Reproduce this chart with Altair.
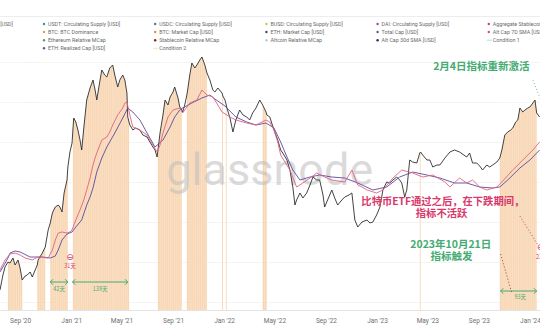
import altair as alt
import pandas as pd

# ---------------- data ----------------
# Altcoin market cap (black line), arbitrary units (~B USD)
alt_dates = [
    "2020-07-15", "2020-07-22", "2020-07-27",
    "2020-08-03", "2020-08-08", "2020-08-15", "2020-08-20", "2020-08-27",
    "2020-09-01", "2020-09-06", "2020-09-13", "2020-09-18", "2020-09-25", "2020-09-30",
    "2020-10-07", "2020-10-12", "2020-10-14", "2020-10-24", "2020-10-31",
    "2020-11-07", "2020-11-12", "2020-11-17", "2020-11-24",
    "2020-12-01", "2020-12-05", "2020-12-10", "2020-12-15", "2020-12-22", "2020-12-24", "2020-12-29",
    "2021-01-03", "2021-01-05", "2021-01-07", "2021-01-12", "2021-01-17", "2021-01-22", "2021-01-26", "2021-01-31",
    "2021-02-07", "2021-02-15", "2021-02-22", "2021-02-27",
    "2021-03-03", "2021-03-10", "2021-03-15", "2021-03-22", "2021-03-27",
    "2021-04-03", "2021-04-10", "2021-04-15", "2021-04-22", "2021-04-27",
    "2021-05-04", "2021-05-09", "2021-05-14", "2021-05-16", "2021-05-19", "2021-05-21", "2021-05-28",
    "2021-06-04", "2021-06-14", "2021-06-21",
    "2021-07-01", "2021-07-08", "2021-07-15", "2021-07-20", "2021-07-25", "2021-07-27", "2021-07-30",
    "2021-08-01", "2021-08-08", "2021-08-13", "2021-08-20", "2021-08-25",
    "2021-09-01", "2021-09-05", "2021-09-13", "2021-09-17", "2021-09-22", "2021-09-24", "2021-09-29",
    "2021-10-04", "2021-10-06", "2021-10-11", "2021-10-16", "2021-10-23", "2021-10-28",
    "2021-11-04", "2021-11-09", "2021-11-16", "2021-11-21", "2021-11-28",
    "2021-12-05", "2021-12-10", "2021-12-17", "2021-12-27", "2021-12-29",
    "2022-01-03", "2022-01-05", "2022-01-07", "2022-01-15", "2022-01-22", "2022-01-29",
    "2022-02-07", "2022-02-15", "2022-02-24",
    "2022-03-03", "2022-03-10", "2022-03-18", "2022-03-27",
    "2022-04-03", "2022-04-11", "2022-04-13", "2022-04-20", "2022-04-30",
    "2022-05-09", "2022-05-16", "2022-05-21", "2022-05-31",
    "2022-06-07", "2022-06-14", "2022-06-19", "2022-06-23",
    "2022-07-01", "2022-07-08", "2022-07-17", "2022-07-25",
    "2022-08-01", "2022-08-10", "2022-08-17", "2022-08-25", "2022-08-29",
    "2022-09-05", "2022-09-15", "2022-09-22", "2022-09-29",
    "2022-10-09", "2022-10-16", "2022-10-26",
    "2022-11-02", "2022-11-09", "2022-11-16", "2022-11-26",
    "2022-12-08", "2022-12-15", "2022-12-22", "2022-12-31",
    "2023-01-08", "2023-01-15", "2023-01-24", "2023-01-31",
    "2023-02-08", "2023-02-17", "2023-02-24",
    "2023-03-01", "2023-03-08", "2023-03-13", "2023-03-20", "2023-03-27",
    "2023-04-06", "2023-04-13", "2023-04-15", "2023-04-20", "2023-04-30",
    "2023-05-07", "2023-05-14", "2023-05-24", "2023-05-31",
    "2023-06-12", "2023-06-24",
    "2023-07-05", "2023-07-17",
    "2023-08-03", "2023-08-10", "2023-08-17", "2023-08-27",
    "2023-09-03", "2023-09-10", "2023-09-20", "2023-09-27",
    "2023-10-04", "2023-10-14", "2023-10-21", "2023-10-26",
    "2023-11-02", "2023-11-09", "2023-11-16", "2023-11-21", "2023-11-28",
    "2023-12-03", "2023-12-08", "2023-12-15", "2023-12-20", "2023-12-27",
    "2024-01-01", "2024-01-08", "2024-01-13", "2024-01-17", "2024-01-24",
]
alt_values = [
    160, 235, 275,
    300, 295, 320, 285, 310,
    270, 210, 230, 235, 250, 225,
    260, 285, 310, 345, 375,
    460, 495, 545, 575,
    585, 575, 550, 645, 710, 775, 850,
    895, 960, 1020, 1000, 960, 910, 860, 970,
    1110, 1170, 1210, 1160,
    1110, 1200, 1260, 1235, 1225,
    1270, 1285, 1235, 1175, 1210,
    1235, 1210, 1145, 1025, 1000, 985, 960,
    970, 960, 935,
    925, 900, 875, 860, 825, 860, 910,
    945, 1035, 1110, 1085, 1125,
    1150, 1175, 1120, 1075, 1060, 1050, 1085,
    1135, 1160, 1235, 1295, 1270, 1285,
    1310, 1325, 1285, 1245, 1210,
    1160, 1150, 1170, 1145, 1130,
    1110, 1095, 1075, 1020, 950, 1010,
    1060, 1035, 1025,
    1010, 1045, 1070, 1110,
    1085, 1050, 1035, 1025, 960,
    910, 860, 845, 810,
    760, 675, 585, 610,
    645, 620, 645, 685,
    725, 710, 710, 635, 575,
    610, 660, 620, 585,
    610, 625, 635,
    645, 510, 475, 500,
    510, 495, 500, 535,
    575, 660, 700, 695,
    710, 725, 710,
    695, 625, 660, 810, 800,
    795, 845, 850, 835, 810,
    810, 775, 785, 785,
    820, 850,
    860, 850,
    825, 845, 795, 795,
    780, 760, 785, 775,
    785, 800, 820, 860,
    935, 950, 960, 970, 1000,
    1010, 1070, 1050, 1060, 1070,
    1075, 1095, 1110, 1045, 1025,
]

# Alt Cap 7D SMA (pink-red line)
sma7_dates = [
    "2020-07-15", "2020-07-27", "2020-08-08", "2020-08-20", "2020-09-01", "2020-09-13", "2020-09-30",
    "2020-10-14", "2020-11-07", "2020-11-17", "2020-11-24", "2020-12-01", "2020-12-10", "2020-12-22",
    "2020-12-29", "2021-01-03", "2021-01-12", "2021-01-17", "2021-01-22", "2021-01-31", "2021-02-07",
    "2021-02-15", "2021-02-22", "2021-02-27", "2021-03-03", "2021-03-15", "2021-03-27", "2021-04-03",
    "2021-04-10", "2021-04-22", "2021-05-04", "2021-05-09", "2021-05-14", "2021-05-21", "2021-05-28",
    "2021-06-14", "2021-07-01", "2021-07-15", "2021-07-25", "2021-08-01", "2021-08-08", "2021-08-20",
    "2021-09-01", "2021-09-17", "2021-09-24", "2021-10-11", "2021-10-28", "2021-11-09", "2021-11-21",
    "2021-12-05", "2021-12-17", "2021-12-27", "2022-01-15", "2022-01-29", "2022-02-24", "2022-03-18",
    "2022-04-11", "2022-04-20", "2022-04-30", "2022-05-09", "2022-05-16", "2022-06-07", "2022-06-23",
    "2022-07-08", "2022-07-25", "2022-08-10", "2022-08-29", "2022-09-15", "2022-10-16", "2022-11-02",
    "2022-11-16", "2022-11-26", "2022-12-08", "2022-12-31", "2023-01-15", "2023-02-08", "2023-03-01",
    "2023-03-27", "2023-04-20", "2023-05-14", "2023-06-12", "2023-06-24", "2023-07-17", "2023-08-03",
    "2023-08-17", "2023-09-03", "2023-09-20", "2023-10-14", "2023-10-26", "2023-11-21", "2023-12-15",
    "2024-01-08", "2024-01-24",
]
sma7_values = [
    260, 310, 340, 345, 335, 320, 310,
    325, 320, 360, 410, 445, 450, 445,
    450, 460, 510, 535, 560, 610, 660,
    720, 785, 820, 845, 910, 925, 950,
    985, 1035, 1070, 1095, 1100, 1035, 975,
    960, 935, 885, 850, 885, 945, 1025,
    1060, 1070, 1045, 1095, 1110, 1160, 1135,
    1125, 1085, 1050, 1025, 1010, 995, 985,
    1010, 1000, 960, 900, 835, 760, 675,
    695, 720, 745, 725, 710, 700, 760,
    685, 675, 660, 645, 660, 720, 760,
    745, 725, 735, 700, 675, 720, 695,
    710, 675, 660, 675, 700, 760, 810,
    860, 900,
]

# Alt Cap 30d SMA (indigo line)
sma30_dates = [
    "2020-07-15", "2020-07-22", "2020-08-03", "2020-08-08", "2020-08-20", "2020-09-01", "2020-09-25",
    "2020-10-24", "2020-11-12", "2020-11-24", "2020-12-01", "2020-12-10", "2020-12-22", "2021-01-03",
    "2021-01-12", "2021-01-26", "2021-02-07", "2021-02-15", "2021-02-22", "2021-03-03", "2021-03-15",
    "2021-03-27", "2021-04-15", "2021-05-04", "2021-05-16", "2021-05-28", "2021-06-14", "2021-07-01",
    "2021-07-20", "2021-08-08", "2021-08-25", "2021-09-05", "2021-09-17", "2021-09-24", "2021-10-16",
    "2021-11-09", "2021-11-28", "2021-12-10", "2022-01-03", "2022-01-29", "2022-02-24", "2022-03-18",
    "2022-04-11", "2022-04-30", "2022-05-16", "2022-05-31", "2022-06-14", "2022-07-01", "2022-07-25",
    "2022-08-17", "2022-09-15", "2022-10-16", "2022-11-16", "2022-12-22", "2023-01-24", "2023-02-24",
    "2023-03-27", "2023-04-30", "2023-05-31", "2023-07-05", "2023-08-03", "2023-09-03", "2023-10-04",
    "2023-10-21", "2023-11-09", "2023-12-08", "2024-01-01", "2024-01-24",
]
sma30_values = [
    250, 275, 320, 345, 355, 350, 325,
    325, 320, 330, 360, 410, 440, 450,
    475, 510, 585, 625, 670, 750, 820,
    875, 945, 1020, 1070, 1050, 1010, 945,
    875, 910, 975, 1025, 1060, 1070, 1095,
    1120, 1135, 1115, 1080, 1025, 1000, 985,
    995, 970, 900, 825, 760, 710, 725,
    735, 725, 720, 695, 660, 675, 725,
    750, 735, 720, 695, 695, 675, 670,
    675, 710, 770, 810, 860,
]

# Condition windows (orange fill under the alt-cap curve)
band_starts = ["2020-08-03", "2020-10-12", "2020-11-12", "2021-01-05", "2021-07-27", "2021-10-04",
               "2021-12-27", "2022-01-05", "2022-04-03", "2023-04-13", "2023-10-21"]
band_ends = ["2020-09-06", "2020-10-31", "2020-12-24", "2021-05-19", "2021-09-22", "2021-11-21",
             "2021-12-29", "2022-01-07", "2022-04-13", "2023-04-15", "2024-01-17"]

# x-axis ticks (year, month)
tick_months = [(2020, 9), (2021, 1), (2021, 5), (2021, 9), (2022, 1), (2022, 5), (2022, 9),
               (2023, 1), (2023, 5), (2023, 9), (2024, 1)]
grid_values = [100, 200, 300, 400, 500, 600, 700, 800, 900, 1000, 1100, 1200, 1300]

# duration arrows
arrow_starts = ["2020-11-12", "2021-01-04", "2023-10-23"]
arrow_ends = ["2020-12-24", "2021-05-16", "2024-01-17"]
arrow_levels = [200, 200, 155]
arrow_label_dates = ["2020-12-03", "2021-03-11", "2023-12-09"]
arrow_label_levels = [167, 167, 127]
arrow_labels = ["42天", "138天", "93天"]

# red gap markers
gap_dates = ["2020-12-29", "2024-01-26"]
gap_levels = [325, 375]
gap_label_dates = ["2020-12-29", "2024-01-29"]
gap_label_levels = [281, 326]
gap_labels = ["31天", "23天"]

# dotted leader lines
leader_ids = [0, 0, 1, 1, 2, 2]
leader_dates = ["2024-01-08", "2024-01-27", "2023-10-23", "2023-11-18", "2023-12-08", "2024-01-20"]
leader_levels = [1210, 1110, 340, 150, 530, 385]
leader_colors = ["#8fb8b3", "#8fb8b3", "#a05a50", "#a05a50", "#d9577d", "#d9577d"]

green_notes = ["2月4日指标重新激活", "2023年10月21日", "指标触发"]
green_note_dates = ["2023-09-07", "2023-06-26", "2023-06-28"]
green_note_levels = [1275, 385, 323]
red_notes = ["比特币ETF通过之后，在下跌期间，", "指标不活跃"]
red_note_dates = ["2023-06-07", "2023-06-04"]
red_note_levels = [600, 540]

# legend
legend_rows = [
    ["USDT: Circulating Supply [USD]", "USDC: Circulating Supply [USD]", "BUSD: Circulating Supply [USD]",
     "DAI: Circulating Supply [USD]", "Aggregate Stablecoin Supply [USD]"],
    ["BTC: BTC Dominance", "BTC: Market Cap [USD]", "ETH: Market Cap [USD]", "Total Cap [USD]",
     "Alt Cap 7D SMA [USD]"],
    ["Ethereum Relative MCap", "Stablecoin Relative MCap", "Altcoin Relative MCap",
     "Alt Cap 30d SMA [USD]", "Condition 1"],
    ["ETH: Realized Cap [USD]", "Condition 2"],
]
legend_colors = [
    ["#3f9a8c", "#4a78b8", "#c9c84f", "#8e4fb0", "#c04d6a"],
    ["#d9a355", "#e88f3c", "#394a8e", "#5b5ea6", "#d8506f"],
    ["#5e9e4c", "#8a1c2c", "#9fd6cf", "#2c2c6e", "#a8dcd4"],
    ["#5b5b9c", "#f6dcb8"],
]
legend_is_line = ["Condition 1", "Condition 2"]

# ---------------- frames ----------------
alt_df = pd.DataFrame({"date": alt_dates, "value": alt_values})
sma7_df = pd.DataFrame({"date": sma7_dates, "value": sma7_values})
sma30_df = pd.DataFrame({"date": sma30_dates, "value": sma30_values})

band_rows = []
stripe_rows = []
for i, (s, e) in enumerate(zip(band_starts, band_ends)):
    for d, v in zip(alt_dates, alt_values):
        if s <= d <= e:
            band_rows.append({"date": d, "value": v, "band": i})
    for d in pd.date_range(s, e, freq="5D")[1:]:
        stripe_rows.append({"date": d.strftime("%Y-%m-%d")})
band_df = pd.DataFrame(band_rows)
stripe_df = pd.DataFrame(stripe_rows)

arrow_df = pd.DataFrame({"start": arrow_starts, "end": arrow_ends, "value": arrow_levels})
arrow_head_df = pd.DataFrame({
    "date": arrow_starts + arrow_ends,
    "value": arrow_levels + arrow_levels,
    "side": ["l"] * len(arrow_starts) + ["r"] * len(arrow_ends),
})
arrow_label_df = pd.DataFrame({"date": arrow_label_dates, "value": arrow_label_levels, "label": arrow_labels})
gap_df = pd.DataFrame({"date": gap_dates, "value": gap_levels})
gap_label_df = pd.DataFrame({"date": gap_label_dates, "value": gap_label_levels, "label": gap_labels})
leader_df = pd.DataFrame({"id": leader_ids, "date": leader_dates, "value": leader_levels, "c": leader_colors})
green_df = pd.DataFrame({"date": green_note_dates, "value": green_note_levels, "label": green_notes})
red_df = pd.DataFrame({"date": red_note_dates, "value": red_note_levels, "label": red_notes})
wm_df = pd.DataFrame({"date": ["2022-04-20"], "value": [685], "label": ["glassnode"]})

W, H = 540, 260
PAD_TOP, PAD_BOTTOM = 50, 26
COL0, COLW = 44, 111.2
ROW0, ROWH = 24, 8.1

leg = []
for r, (labels, cols) in enumerate(zip(legend_rows, legend_colors)):
    for c, (lab, colr) in enumerate(zip(labels, cols)):
        leg.append({
            "lx": COL0 + c * COLW, "ly": ROW0 + r * ROWH - PAD_TOP,
            "label": lab, "color": colr, "line": lab in legend_is_line,
        })
leg_df = pd.DataFrame(leg)
leg_dot_df = leg_df[~leg_df["line"]]
leg_line_df = leg_df[leg_df["line"]].assign(lx2=lambda d: d["lx"] + 3, lx1=lambda d: d["lx"] - 2)
leg_cut_df = pd.DataFrame({"lx": [13], "ly": [ROW0 - PAD_TOP], "label": ["BTC: Price [USD]"]})

# ---------------- scales / encodings ----------------
x_scale = alt.Scale(domain=[alt.DateTime(year=2020, month=7, date=15, utc=True),
                            alt.DateTime(year=2024, month=1, date=25, utc=True)])
x_axis = alt.Axis(
    values=[alt.DateTime(year=y, month=m, date=1, utc=True) for y, m in tick_months],
    labelExpr="utcFormat(datum.value, \"%b '%y\")",
    grid=False, ticks=False, domain=True, domainColor="#e4e4e4", domainWidth=1,
    labelColor="#6f6f6f", labelFontSize=6.5, labelFont="Roboto", labelPadding=7, title=None,
)
y_scale = alt.Scale(domain=[60, 1360], nice=False, zero=False)
y_axis = alt.Axis(values=grid_values, labels=False, ticks=False, domain=False, grid=True,
                  gridColor="#efefef", gridWidth=0.7, title=None)


def X(field):
    return alt.X(field, type="temporal", scale=x_scale, axis=x_axis)


def Y(field):
    return alt.Y(field, type="quantitative", scale=y_scale, axis=y_axis)


PX = lambda f: alt.X(f, type="quantitative", scale=None, axis=None)
PY = lambda f: alt.Y(f, type="quantitative", scale=None, axis=None)

areas = alt.Chart(band_df).mark_area(color="#f7d2ab", opacity=0.9, clip=True).encode(
    x=X("date"), y=Y("value"), y2=alt.datum(60), detail="band:N")
stripes = alt.Chart(stripe_df).mark_rule(color="white", opacity=0.45, strokeWidth=0.6, clip=True).encode(
    x=X("date"), y=alt.datum(60), y2=alt.datum(1360))

watermark = alt.Chart(wm_df).mark_text(font="Roboto", fontSize=45, color="#bdbdbd", opacity=0.55,
                                       align="center", baseline="alphabetic").encode(
    x=X("date"), y=Y("value"), text="label:N")

black = alt.Chart(alt_df).mark_line(color="#2e2e2e", strokeWidth=0.9, clip=True).encode(
    x=X("date"), y=Y("value"))
sma7 = alt.Chart(sma7_df).mark_line(color="#e0637f", strokeWidth=0.9, clip=True).encode(
    x=X("date"), y=Y("value"))
sma30 = alt.Chart(sma30_df).mark_line(color="#5b4aa0", strokeWidth=0.9, clip=True).encode(
    x=X("date"), y=Y("value"))

GREEN = "#45ab73"
RED = "#d8386c"

arrows = alt.Chart(arrow_df).mark_rule(color=GREEN, strokeWidth=1).encode(
    x=X("start"), x2=alt.X2("end"), y=Y("value"))
heads_l = alt.Chart(arrow_head_df).transform_filter("datum.side == 'l'").mark_point(
    shape="M1,-1L0,0L1,1", filled=False, color=GREEN, size=30, strokeWidth=1, opacity=1).encode(
    x=X("date"), y=Y("value"))
heads_r = alt.Chart(arrow_head_df).transform_filter("datum.side == 'r'").mark_point(
    shape="M-1,-1L0,0L-1,1", filled=False, color=GREEN, size=30, strokeWidth=1, opacity=1).encode(
    x=X("date"), y=Y("value"))
arrow_text = alt.Chart(arrow_label_df).mark_text(font="Noto Sans CJK SC", fontSize=5.5, color=GREEN).encode(
    x=X("date"), y=Y("value"), text="label:N")

gap_mark = alt.Chart(gap_df).mark_text(text="⊖", font="DejaVu Sans", fontSize=9, color=RED).encode(
    x=X("date"), y=Y("value"))
gap_text = alt.Chart(gap_label_df).mark_text(font="Noto Sans CJK SC", fontSize=5.5, color=RED).encode(
    x=X("date"), y=Y("value"), text="label:N")

leaders = alt.Chart(leader_df).mark_line(strokeDash=[1.2, 2], strokeWidth=1).encode(
    x=X("date"), y=Y("value"), detail="id:N", color=alt.Color("c:N", scale=None))

green_text = alt.Chart(green_df).mark_text(font="Noto Sans CJK SC", fontSize=10.5, fontWeight="bold",
                                           color=GREEN).encode(x=X("date"), y=Y("value"), text="label:N")
red_text = alt.Chart(red_df).mark_text(font="Noto Sans CJK SC", fontSize=10.3, fontWeight="bold",
                                       color=RED).encode(x=X("date"), y=Y("value"), text="label:N")

sep = alt.Chart(pd.DataFrame({"y": [16.5 - PAD_TOP]})).mark_rule(color="#e8e8e8", strokeWidth=0.8).encode(
    y=PY("y"), x=alt.value(-10), x2=alt.value(W + 10))
leg_dots = alt.Chart(leg_dot_df).mark_circle(size=6, opacity=1).encode(
    x=PX("lx"), y=PY("ly"), color=alt.Color("color:N", scale=None))
leg_lines = alt.Chart(leg_line_df).mark_rule(strokeWidth=0.9).encode(
    x=PX("lx1"), x2=alt.X2("lx2"), y=PY("ly"), color=alt.Color("color:N", scale=None))
leg_text = alt.Chart(leg_df).mark_text(align="left", baseline="middle", font="Roboto", fontSize=5.3,
                                       color="#6a6a6a", dx=4).encode(x=PX("lx"), y=PY("ly"), text="label:N")
leg_cut = alt.Chart(leg_cut_df).mark_text(align="right", baseline="middle", font="Roboto", fontSize=5.3,
                                          color="#6a6a6a").encode(x=PX("lx"), y=PY("ly"), text="label:N")

chart = alt.layer(
    areas, stripes, watermark, black, sma30, sma7,
    arrows, heads_l, heads_r, arrow_text, gap_mark, gap_text, leaders,
    green_text, red_text,
    sep, leg_dots, leg_lines, leg_text, leg_cut,
).properties(
    width=W, height=H,
    autosize=alt.AutoSizeParams(type="none"),
    padding={"top": PAD_TOP, "bottom": PAD_BOTTOM, "left": 0, "right": 0},
    background="white",
).configure_view(stroke=None)

chart.save("out.html", embed_options={"renderer": "svg", "actions": False})
